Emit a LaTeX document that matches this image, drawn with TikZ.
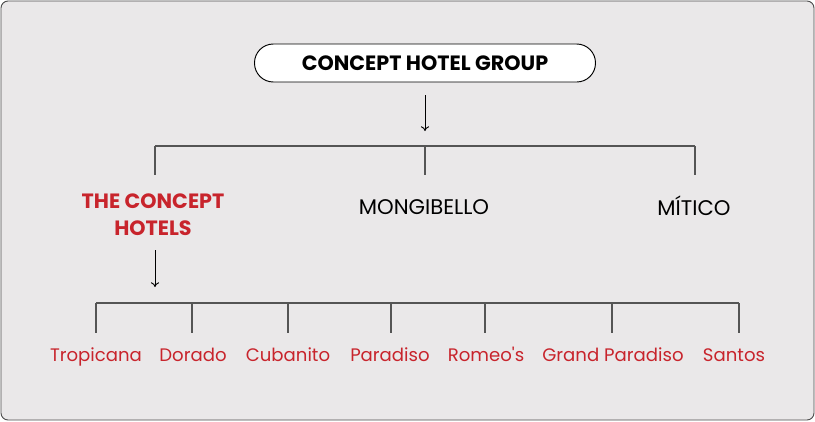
\documentclass[tikz,border=0pt]{standalone}
\usepackage{fontspec}
\setmainfont{Poppins}
\newfontfamily\hotelfont{Poppins}
\usetikzlibrary{arrows.meta}
\definecolor{hotelred}{HTML}{C8242C}
\definecolor{panelgray}{HTML}{EAE8E9}
\definecolor{linegray}{HTML}{555555}
\tikzset{
	branch/.style={draw=linegray,line width=0.9pt},
	down/.style={draw=black,line width=0.8pt,-{To[length=4pt,width=7pt]}},
	brand/.style={font=\fontsize{18}{23}\selectfont,align=center},
	hotel/.style={font=\hotelfont\fontsize{15.4}{18}\selectfont,text=hotelred,anchor=base}
}
\begin{document}
\begin{tikzpicture}[x=0.85pt,y=-0.85pt]
		\useasboundingbox (0,0) rectangle (815,421);
		\draw[fill=panelgray,draw=black!70,line width=0.8pt,rounded corners=6pt] (1,1) rectangle (814,420); %panel
		
		\node[draw=black,fill=white,line width=0.8pt,rounded corners=16pt,minimum width=341*0.85pt,minimum height=38*0.85pt,font=\fontsize{17.6}{20}\selectfont\bfseries] (group) at (425,63) {CONCEPT HOTEL GROUP}; %top box
		\coordinate (groupin) at (425,95);
		\coordinate (groupout) at (425,131);
		\draw[down] (groupin) -- (groupout); %arrow down
		
		% brands
		\coordinate (bl) at (155,146);
		\coordinate (bm) at (425,146);
		\coordinate (br) at (695,146);
		\node[brand,text=hotelred,font=\fontsize{17.6}{23}\selectfont\bfseries] (concept) at (153,215) {THE CONCEPT\\HOTELS};
		\node[brand] (mongibello) at (424,207) {MONGIBELLO};
		\node[brand] (mitico) at (694,206) {MÍTICO};
		\coordinate (cl) at (155,175);
		\coordinate (cm) at (425,175);
		\coordinate (cr) at (695,175);
		\draw[branch] (bl) -- (br); %horizontal line
		\draw[branch] (bl) -- (cl); %left drop
		\draw[branch] (bm) -- (cm); %middle drop
		\draw[branch] (br) -- (cr); %right drop
		
		\coordinate (conceptin) at (155,250);
		\coordinate (conceptout) at (155,287);
		\draw[down] (conceptin) -- (conceptout); %arrow down
		
		% hotels, sorted in rising x
		\node[hotel] (tropicana) at (96,361) {Tropicana};
		\node[hotel] (dorado) at (193,361) {Dorado};
		\node[hotel] (cubanito) at (288,361) {Cubanito};
		\node[hotel] (paradiso) at (390,361) {Paradiso};
		\node[hotel] (romeos) at (486,361) {Romeo's};
		\node[hotel] (grand) at (613,361) {Grand Paradiso};
		\node[hotel] (santos) at (734,361) {Santos};
		
		\draw[branch] (96,303) -- (739,303); %bottom line
		\foreach \x in {96,192,288,391,485,612,739} {
			\draw[branch] (\x,303) -- (\x,333); %hotel drop
		}
\end{tikzpicture}
\end{document}
